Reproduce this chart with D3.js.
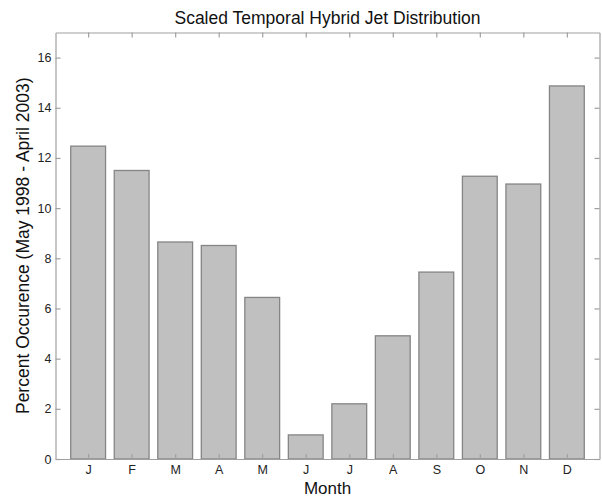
<!DOCTYPE html>
<html>
<head>
<meta charset="utf-8">
<script src="https://cdn.jsdelivr.net/npm/d3@7"></script>
<style>
  html, body { margin: 0; padding: 0; background: #fff; }
  svg { display: block; font-family: "Liberation Sans", Arial, sans-serif; }
</style>
</head>
<body>
<svg id="chart" width="602" height="497"></svg>
<script>
const months = ["J", "F", "M", "A", "M", "J", "J", "A", "S", "O", "N", "D"];
const percent = [12.47, 11.50, 8.65, 8.51, 6.44, 0.96, 2.20, 4.91, 7.45, 11.27, 10.96, 14.87];
const yTicks = [0, 2, 4, 6, 8, 10, 12, 14, 16];
const titleText = "Scaled Temporal Hybrid Jet Distribution";
const xLabel = "Month";
const yLabel = "Percent Occurence (May 1998 - April 2003)";

(function () {
const svg = d3.select("#chart");
const margin = { left: 55.5, right: 2.5, top: 32.5, bottom: 38 };
const W = 602, H = 497;
const x0 = margin.left, x1 = W - margin.right, y0 = H - margin.bottom, y1 = margin.top;

const idx = months.map((m, i) => i + 1);
const x = d3.scaleLinear().domain([0.25, 12.75]).range([x0, x1]);
const y = d3.scaleLinear().domain([0, 17]).range([y0, y1]);
const barW = 0.8 * (x(2) - x(1));

const axisColor = "#a0a0a0";
const tickLen = 5;

// bars
svg.append("g").selectAll("rect")
  .data(percent)
  .join("rect")
  .attr("x", (d, i) => x(i + 1) - barW / 2)
  .attr("y", d => y(d))
  .attr("width", barW)
  .attr("height", d => y(0) - y(d))
  .attr("fill", "#c0c0c0")
  .attr("stroke", "#858585")
  .attr("stroke-width", 1.3);

// axes (MATLAB-style box with inward ticks)
const axBottom = d3.axisBottom(x).tickValues(idx).tickFormat((d, i) => months[i]).tickSizeInner(-tickLen).tickSizeOuter(0).tickPadding(6);
const axTop = d3.axisTop(x).tickValues(idx).tickFormat("").tickSizeInner(-tickLen).tickSizeOuter(0);
const axLeft = d3.axisLeft(y).tickValues(yTicks).tickFormat(d3.format("d")).tickSizeInner(-tickLen).tickSizeOuter(0).tickPadding(4);
const axRight = d3.axisRight(y).tickValues(yTicks).tickFormat("").tickSizeInner(-tickLen).tickSizeOuter(0);

function style(g) {
  g.select(".domain").attr("stroke", axisColor).attr("stroke-width", 1.2);
  g.selectAll(".tick line").attr("stroke", axisColor).attr("stroke-width", 1.2);
  g.selectAll(".tick text").attr("fill", "#222").style("font-size", "12.5px").style("font-family", "'Liberation Sans', Arial, sans-serif");
}
svg.append("g").attr("transform", `translate(0,${y0})`).call(axBottom).call(style);
svg.append("g").attr("transform", `translate(0,${y1})`).call(axTop).call(style);
svg.append("g").attr("transform", `translate(${x0},0)`).call(axLeft).call(style);
svg.append("g").attr("transform", `translate(${x1},0)`).call(axRight).call(style);

// title
svg.append("text")
  .attr("x", (x0 + x1) / 2).attr("y", 23.5)
  .attr("text-anchor", "middle")
  .attr("fill", "#111")
  .style("font-size", "17.5px")
  .text(titleText);

// x label
svg.append("text")
  .attr("x", (x0 + x1) / 2).attr("y", 494)
  .attr("text-anchor", "middle")
  .attr("fill", "#111")
  .style("font-size", "17px")
  .text(xLabel);

// y label
svg.append("text")
  .attr("transform", `translate(29,${(y0 + y1) / 2}) rotate(-90)`)
  .attr("text-anchor", "middle")
  .attr("fill", "#111")
  .style("font-size", "17.5px")
  .text(yLabel);
})();
</script>
</body>
</html>
